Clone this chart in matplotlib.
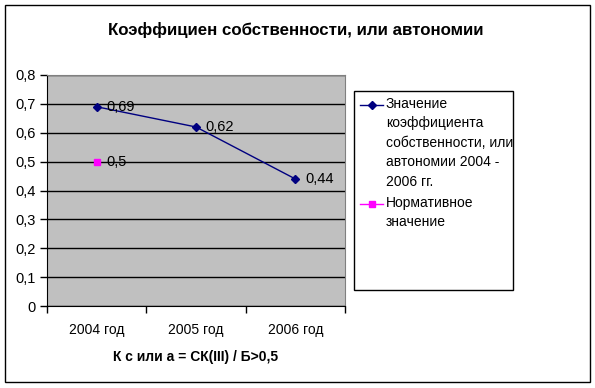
import matplotlib
matplotlib.use("Agg")
import matplotlib.pyplot as plt
from matplotlib.patches import Rectangle
from matplotlib.lines import Line2D
from matplotlib.ticker import FuncFormatter, FixedLocator

plt.rcParams['font.family'] = ['Liberation Sans', 'DejaVu Sans']

categories = ["2004 год", "2005 год", "2006 год"]
series_values = [0.69, 0.62, 0.44]
norm_values = [0.5]
series_label = "Значение\nкоэффициента\nсобственности, или\nавтономии 2004 -\n2006 гг."
norm_label = "Нормативное\nзначение"
title = "Коэффициен собственности, или автономии"
xlabel = "К с или а = СК(III) / Б>0,5"
yticks = [0, 0.1, 0.2, 0.3, 0.4, 0.5, 0.6, 0.7, 0.8]

def fmt(v):
    s = f"{v:.2f}".rstrip('0').rstrip('.')
    return s.replace('.', ',')

W, H = 595, 388
def fx(px): return px / W
def fy(py): return 1 - py / H

fig = plt.figure(figsize=(5.95, 3.88), dpi=100)
fig.patches.append(Rectangle((fx(5), fy(382)), 585/W, 377/H, transform=fig.transFigure,
                             fill=False, edgecolor='black', linewidth=1))

ax = fig.add_axes([fx(47), fy(306), 298/W, 231/H])
ax.set_facecolor('#C0C0C0')
x = list(range(len(categories)))
ax.plot(x, series_values, color='#000080', marker='D', markersize=4, linewidth=1, zorder=3)
ax.plot(x[:len(norm_values)], norm_values, color='#FF00FF', marker='s', markersize=5,
        linewidth=1, linestyle='none', zorder=3)
for xi, v in zip(x, series_values):
    ax.annotate(fmt(v), (xi, v), xytext=(7, 0), textcoords='offset points', va='center', ha='left', fontsize=10.5)
for xi, v in zip(x, norm_values):
    ax.annotate(fmt(v), (xi, v), xytext=(7, 0), textcoords='offset points', va='center', ha='left', fontsize=10.5)

ax.set_xlim(-0.5, len(categories) - 0.5)
ax.set_ylim(0, 0.8)
ax.set_yticks(yticks)
ax.yaxis.set_major_formatter(FuncFormatter(lambda v, p: fmt(v)))
ax.grid(axis='y', color='black', linewidth=1)
ax.set_axisbelow(True)
ax.xaxis.set_major_locator(FixedLocator([i - 0.5 for i in range(len(categories) + 1)]))
ax.set_xticklabels([])
for xi, c in zip(x, categories):
    ax.text(xi, -0.083, c, ha='center', va='center', fontsize=10, transform=ax.transData)
ax.tick_params(axis='both', direction='out', length=5, width=1, color='black', labelsize=10.5)
ax.tick_params(axis='y', pad=3)
for s in ['top', 'right']:
    ax.spines[s].set_color('#808080')
ax.spines['left'].set_color('black')
ax.spines['bottom'].set_color('black')

fig.text(fx(296), fy(30), title, ha='center', va='center', fontsize=12.2, fontweight='bold')
fig.text(fx(196), fy(357), xlabel, ha='center', va='center', fontsize=10, fontweight='bold')

# legend box drawn manually so handles align with the first text line
fig.patches.append(Rectangle((fx(354), fy(290)), 159/W, 199/H, transform=fig.transFigure,
                             fill=False, edgecolor='black', linewidth=1))
entries = [(series_label, '#000080', 'D', 4, 105), (norm_label, '#FF00FF', 's', 5, 204)]
for label, col, mk, ms, yc in entries:
    fig.lines.append(Line2D([fx(360), fx(383)], [fy(yc), fy(yc)], transform=fig.transFigure,
                            color=col, linewidth=1))
    fig.lines.append(Line2D([fx(371.5)], [fy(yc)], transform=fig.transFigure,
                            color=col, marker=mk, markersize=ms, linestyle='none'))
    fig.text(fx(386), fy(yc - 8), label, ha='left', va='top', fontsize=10, linespacing=1.5)

fig.savefig("out.png", dpi=100)
